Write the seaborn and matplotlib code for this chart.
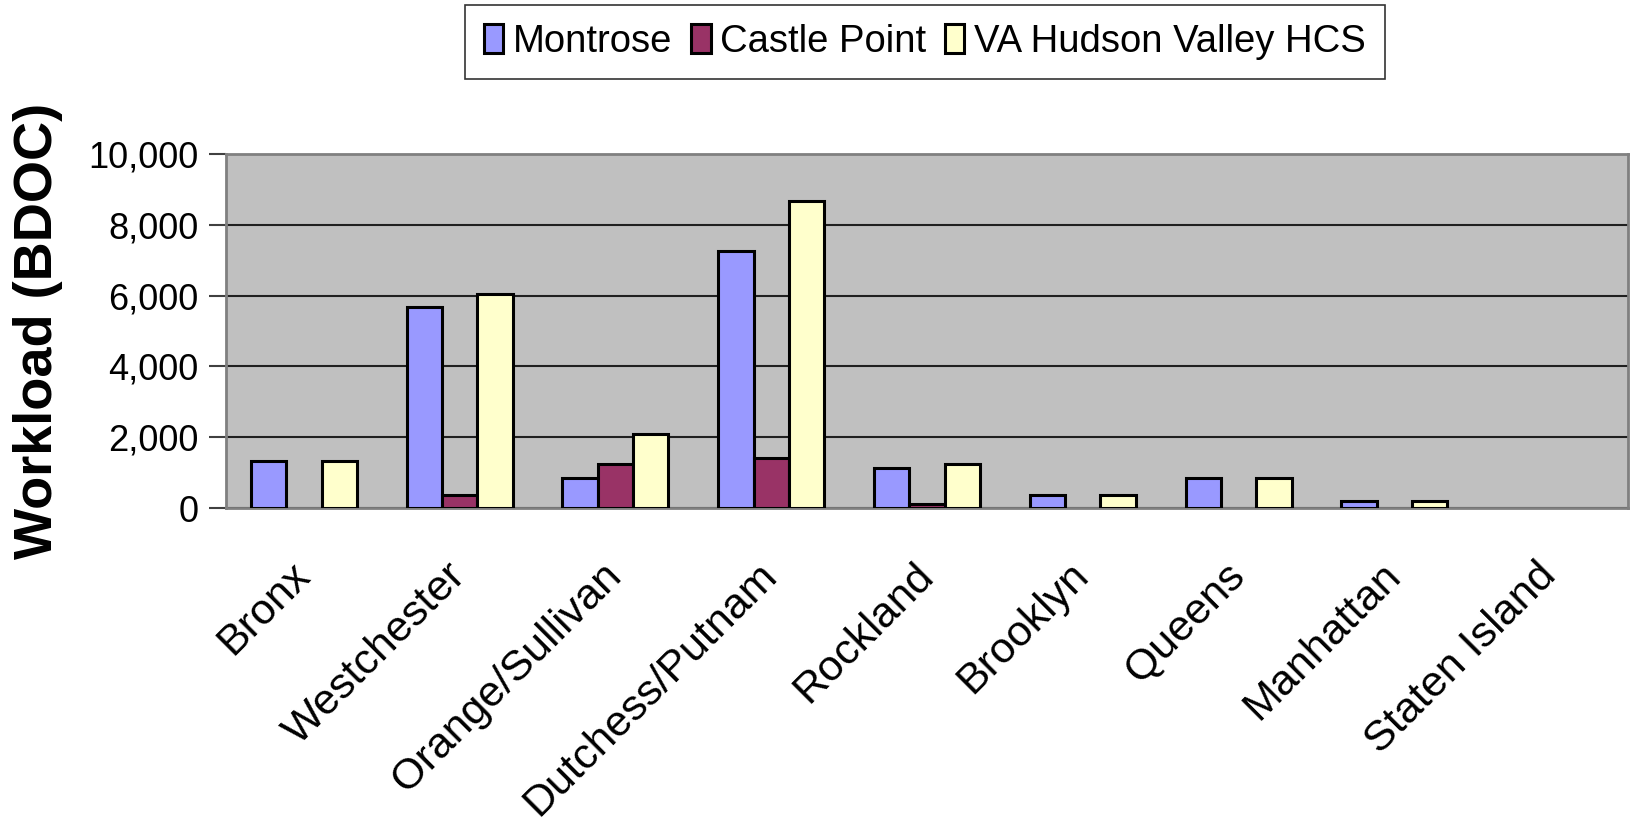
import matplotlib
matplotlib.use("Agg")
import matplotlib.pyplot as plt
import seaborn as sns
import pandas as pd
from matplotlib.patches import Patch
from matplotlib.ticker import FuncFormatter, FixedLocator

regions = ["Bronx", "Westchester", "Orange/Sullivan", "Dutchess/Putnam", "Rockland",
           "Brooklyn", "Queens", "Manhattan", "Staten Island"]
montrose = [1330, 5670, 840, 7270, 1140, 380, 860, 200, 0]
castle_point = [0, 380, 1230, 1420, 110, 0, 0, 0, 0]
hudson_valley = [1330, 6040, 2080, 8680, 1230, 380, 860, 200, 0]
series_names = ["Montrose", "Castle Point", "VA Hudson Valley HCS"]
colors = ["#9999FF", "#993366", "#FFFFCC"]
yticks = [0, 2000, 4000, 6000, 8000, 10000]

rows = []
for name, vals in zip(series_names, [montrose, castle_point, hudson_valley]):
    for r, v in zip(regions, vals):
        rows.append({"Region": r, "Workload": v, "Facility": name})
df = pd.DataFrame(rows)

sns.set_style("white")
plt.rcParams["font.family"] = ["Liberation Sans", "DejaVu Sans"]
plt.rcParams["text.color"] = "black"
plt.rcParams["axes.labelcolor"] = "black"
plt.rcParams["xtick.color"] = "black"
plt.rcParams["ytick.color"] = "black"

fig = plt.figure(figsize=(16.33, 8.26), dpi=100)
ax = fig.add_axes([226 / 1633, 1 - 508 / 826, (1628 - 226) / 1633, (508 - 154) / 826])
ax.set_facecolor("#C0C0C0")

sns.barplot(data=df, x="Region", y="Workload", hue="Facility", order=regions,
            hue_order=series_names, palette=colors, saturation=1, width=0.68,
            edgecolor="black", linewidth=2.2, ax=ax, zorder=3, legend=False)

# zero-height bars show no outline in the reference
for p in ax.patches:
    if p.get_height() == 0:
        p.set_edgecolor("none")

ax.set_ylim(0, 10000)
ax.set_xlim(-0.5, len(regions) - 0.5)
ax.yaxis.set_major_locator(FixedLocator(yticks))
ax.yaxis.set_major_formatter(FuncFormatter(lambda v, p: f"{int(v):,}"))
ax.grid(axis="y", color="#202020", linewidth=1.5, zorder=0)
ax.set_axisbelow(True)

ax.set_xticks(range(len(regions)))
ax.set_xticklabels(regions, rotation=45, ha="right", va="center", rotation_mode="anchor",
                   fontsize=31, color="black")
ax.tick_params(axis="x", which="major", length=0, pad=44)
ax.set_xticks([i - 0.5 for i in range(len(regions) + 1)], minor=True)
ax.tick_params(axis="x", which="minor", length=12, width=1.5, color="#404040", direction="out")
ax.tick_params(axis="y", which="major", length=12, width=1.5, color="#404040",
               direction="out", labelsize=26, pad=8, left=True, labelcolor="black")

for s in ax.spines.values():
    s.set_color("#808080")
    s.set_linewidth(2)
    s.set_visible(True)

ax.set_xlabel("")
ax.set_ylabel("Workload (BDOC)", fontsize=39, fontweight="bold", color="black")
ax.yaxis.set_label_coords(-0.116, 0.5)

handles = [Patch(facecolor=c, edgecolor="black", linewidth=2.2) for c in colors]
leg = fig.legend(handles, series_names, loc="upper center",
                 bbox_to_anchor=(925 / 1633, 1 - 5 / 826),
                 ncol=3, fontsize=27.5, frameon=True, fancybox=False, edgecolor="black",
                 handlelength=0.5, handleheight=0.8, handletextpad=0.25, columnspacing=0.5,
                 borderpad=0.5, borderaxespad=0)
leg.get_frame().set_linewidth(1.2)

fig.savefig("out.png", dpi=100, facecolor="white")
